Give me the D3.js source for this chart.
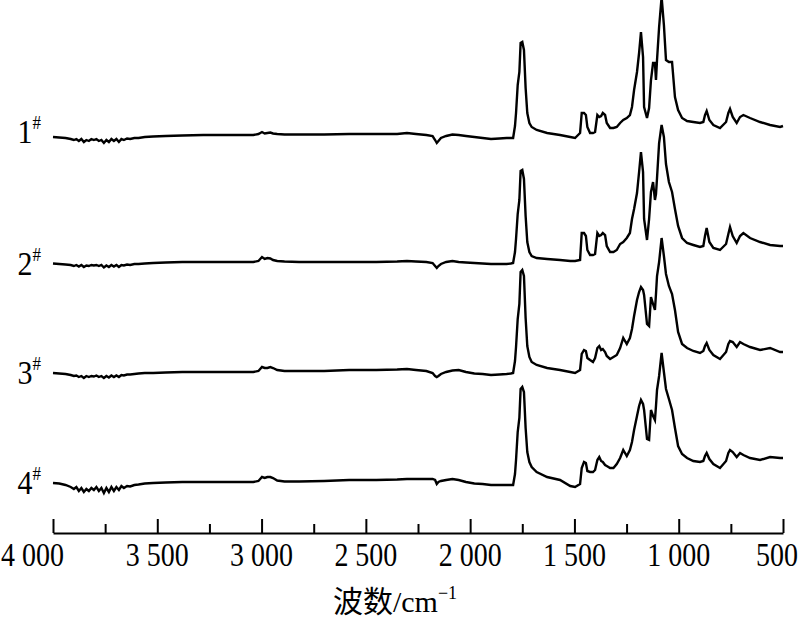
<!DOCTYPE html>
<html><head><meta charset="utf-8">
<script src="https://cdn.jsdelivr.net/npm/d3@7/dist/d3.min.js"></script>
<style>body{margin:0;background:#fff}</style></head>
<body>
<svg id="chart" width="800" height="623"></svg>
<script>
// wavenumber grid (cm^-1)
const wavenumbers = [
4000,3970,3940,3915,3900,3888,3876,3864,3852,3840,
3828,3816,3804,3792,3780,3768,3756,3744,3732,3720,
3708,3696,3684,3672,3660,3645,3630,3610,3590,3560,
3520,3460,3380,3280,3150,3040,3015,2998,2985,2972,
2958,2945,2925,2890,2820,2700,2580,2450,2350,2303,
2260,2210,2180,2168,2160,2152,2140,2115,2085,2055,
2020,1980,1940,1900,1860,1825,1805,1794,1785,1780,
1772,1764,1758,1750,1742,1734,1726,1716,1705,1681,
1631,1569,1520,1497,1473,1465,1454,1445,1438,1425,
1411,1401,1390,1381,1372,1364,1353,1345,1329,1313,
1297,1281,1266,1249,1234,1224,1214,1200,1190,1181,
1171,1166,1152,1142,1133,1123,1114,1109,1104,1094,
1082,1071,1061,1047,1032,1018,1003,984,960,930,
898,882,874,866,853,834,802,773,762,754,
741,722,706,690,658,610,562,514,500];

// absorbance (arbitrary units x0.01) relative to each trace's own baseline
const sample1 = [
0,-0.5,-1,-2,-3,-2,-4,-2,-5,-3,
-4,-2,-3,-2,-4,-3,-6,-3,-5,-2,
-4,-2,-5,-2,-3,-1.5,-2,-1,-1,0,
0.5,1,1.5,2,2,2,3,5,3.5,4,
4.5,3.5,3,2.5,2.5,2.5,3,3,3,4,
3,2,1,-3,-6,-4,-1,1,2.5,2,
1,0,-1,-2,-1.5,-1,-1,-1,11,24,
52,65,94,95,87,49,24,14,10,7,
4,2,0,-1,4,24,24,22,10,4,
4,5,22,20,21,24,22,14,9,9,
10,14,17,19,22,30,47,65,84,105,
80,30,19,29,57,74,74,57,77,110,
140,112,77,75,75,40,27,19,16,15,
14,15,22,26,17,12,9,15,24,28,
20,14,20,22,19,15,12,10,11];

const sample2 = [
0.5,0,-0.5,-1,-2,-1,-2.5,-1,-3,-1.5,
-2,-1,-1.5,-1,-2,-1,-3.5,-1.5,-3,-1,
-2.5,-1,-3,-1,-1.5,-0.5,-1,0,0,0.5,
1,1.5,2,2,2,2,3,7,5,6,
5.5,4,3,2.5,2,2,2,2,2.5,3,
2.5,2,1,-2,-4,-2,0,2,3,2,
1.5,1,0.5,0,0,0,0.5,1,12,25,
50,64,93,94,85,48,22,12,8,6,
5,4,3,3,4,31,31,28,14,9,
9,10,31,28,29,31,29,18,12,12,
14,20,22,26,31,45,55,71,92,112,
92,45,24,45,72,82,64,70,86,121,
139,127,100,82,72,55,38,26,21,19,
17,18,28,36,22,16,14,20,30,37,
28,21,28,31,26,22,19,18,18];

const sample3 = [
1,0.5,0,-1,-2,-1.5,-3,-2,-4,-2,
-3,-2,-2.5,-1.5,-3,-2,-4,-2,-3.5,-1.5,
-3,-1.5,-3,-1,-1.5,-0.5,-0.5,0,0.5,1,
1,1.5,2,2,2,2,3,7,6,6,
7,6,4,3,3,3,4,4,4.5,5,
4,3,1,-2,-3,-2,0,2,3.5,4,
2,0.5,0,-1,-0.5,0,0.5,1,13,27,
55,70,102,104,98,56,28,17,12,9,
6,4,2,1,4,20,24,23,16,14,
12,16,26,28,24,25,22,18,15,17,
19,26,36,30,36,45,58,74,82,87,
84,79,50,48,77,70,64,80,98,112,
136,118,100,88,80,64,42,30,26,23,
21,23,28,31,24,19,15,22,30,33,
32,27,32,30,27,24,26,22,22];

const sample4 = [
1,0.5,-1,-3,-5,-3,-7,-4,-8,-5,
-7,-4,-6,-3,-7,-4,-9,-4,-8,-3,
-7,-3,-6,-2,-4,-2,-2.5,-1,-0.5,0.5,
1,1.5,2,2,2,2,3,7,6,7,
7,6,3.5,2.5,2.5,3,4,4,4.5,5,
5,5,5,4,0,2,3,4,5,4,
2,0.5,0,-1,-1,-1,-1,-1,10,24,
52,66,95,97,92,56,32,22,17,12,
7,4,-2,-3,0,16,22,21,13,12,
12,14,24,27,23,22,19,18,16,16,
20,26,34,28,34,42,54,68,78,84,
80,74,45,44,74,68,64,78,94,108,
131,112,95,85,74,56,38,30,26,23,
22,23,28,31,25,20,16,23,31,34,
32,27,31,29,26,24,27,26,26];

const seriesNames = ["1", "2", "3", "4"];
const seriesValues = [sample1, sample2, sample3, sample4];
const seriesOffsets = [396, 269, 159, 49];   // vertical stacking offsets (same units)

const majorTicks = [4000, 3500, 3000, 2500, 2000, 1500, 1000, 500];
const majorTickLabels = ["4 000", "3 500", "3 000", "2 500", "2 000", "1 500", "1 000", "500"];
const minorTicks = [3750, 3250, 2750, 2250, 1750, 1250, 750];
const xTitle = "波数/cm";

const svg = d3.select("#chart");
const x = d3.scaleLinear().domain([4000, 500]).range([53, 783]);
const y = d3.scaleLinear().domain([0, 533]).range([533, 0]);

const serif = "'Liberation Serif','Times New Roman',serif";

const line = d3.line()
  .x(d => x(d[0]))
  .y(d => y(d[1]))
  .curve(d3.curveLinear);

seriesValues.forEach((vals, i) => {
  const pts = wavenumbers.map((w, k) => [w, vals[k] + seriesOffsets[i]]);
  svg.append("path")
    .attr("d", line(pts))
    .attr("fill", "none")
    .attr("stroke", "#000")
    .attr("stroke-width", 2.4)
    .attr("stroke-linejoin", "miter");

  const ly = y(seriesOffsets[i] + vals[0]) + (i === 0 ? 6 : 11);
  const lab = svg.append("text")
    .attr("transform", `translate(41,${ly}) scale(1,1.15)`)
    .attr("text-anchor", "end")
    .style("font-family", serif)
    .style("font-size", "30px")
    .attr("fill", "#000");
  lab.append("tspan").text(seriesNames[i]);
  lab.append("tspan").style("font-size", "17px").attr("dy", -12).text("#");
});

// axis
const axisY = 533;
const gx = svg.append("g").attr("transform", `translate(0,${axisY})`);
gx.call(d3.axisBottom(x)
  .tickValues(majorTicks)
  .tickSizeInner(-14)
  .tickSizeOuter(0)
  .tickFormat(""));
gx.select(".domain").attr("stroke-width", 2);
gx.selectAll(".tick line").attr("stroke-width", 2);

const gm = svg.append("g").attr("transform", `translate(0,${axisY})`);
gm.call(d3.axisBottom(x).tickValues(minorTicks).tickSizeInner(-9).tickSizeOuter(0).tickFormat(""));
gm.select(".domain").remove();
gm.selectAll(".tick line").attr("stroke-width", 2);

// tick labels (end labels kept inside the picture as in the original)
svg.append("g").selectAll("text")
  .data(majorTicks)
  .join("text")
  .attr("transform", (d, i) => {
    let px = x(d);
    if (i === 0) px = 1;
    if (i === majorTicks.length - 1) px = 798;
    return `translate(${px},566) scale(1,1.2)`;
  })
  .attr("text-anchor", (d, i) => i === 0 ? "start" : (i === majorTicks.length - 1 ? "end" : "middle"))
  .style("font-family", serif)
  .style("font-size", "28px")
  .attr("fill", "#000")
  .text((d, i) => majorTickLabels[i]);

// axis title
const t = svg.append("text")
  .attr("transform", "translate(395,612)")
  .attr("text-anchor", "middle")
  .style("font-size", "30px")
  .attr("fill", "#000");
t.append("tspan").style("font-family", "'Noto Sans CJK SC',sans-serif").text(xTitle.slice(0, 2));
t.append("tspan").style("font-family", serif).text(xTitle.slice(2));
t.append("tspan").style("font-family", serif).style("font-size", "18px").attr("dy", -13).text("−1");
</script>
</body></html>
